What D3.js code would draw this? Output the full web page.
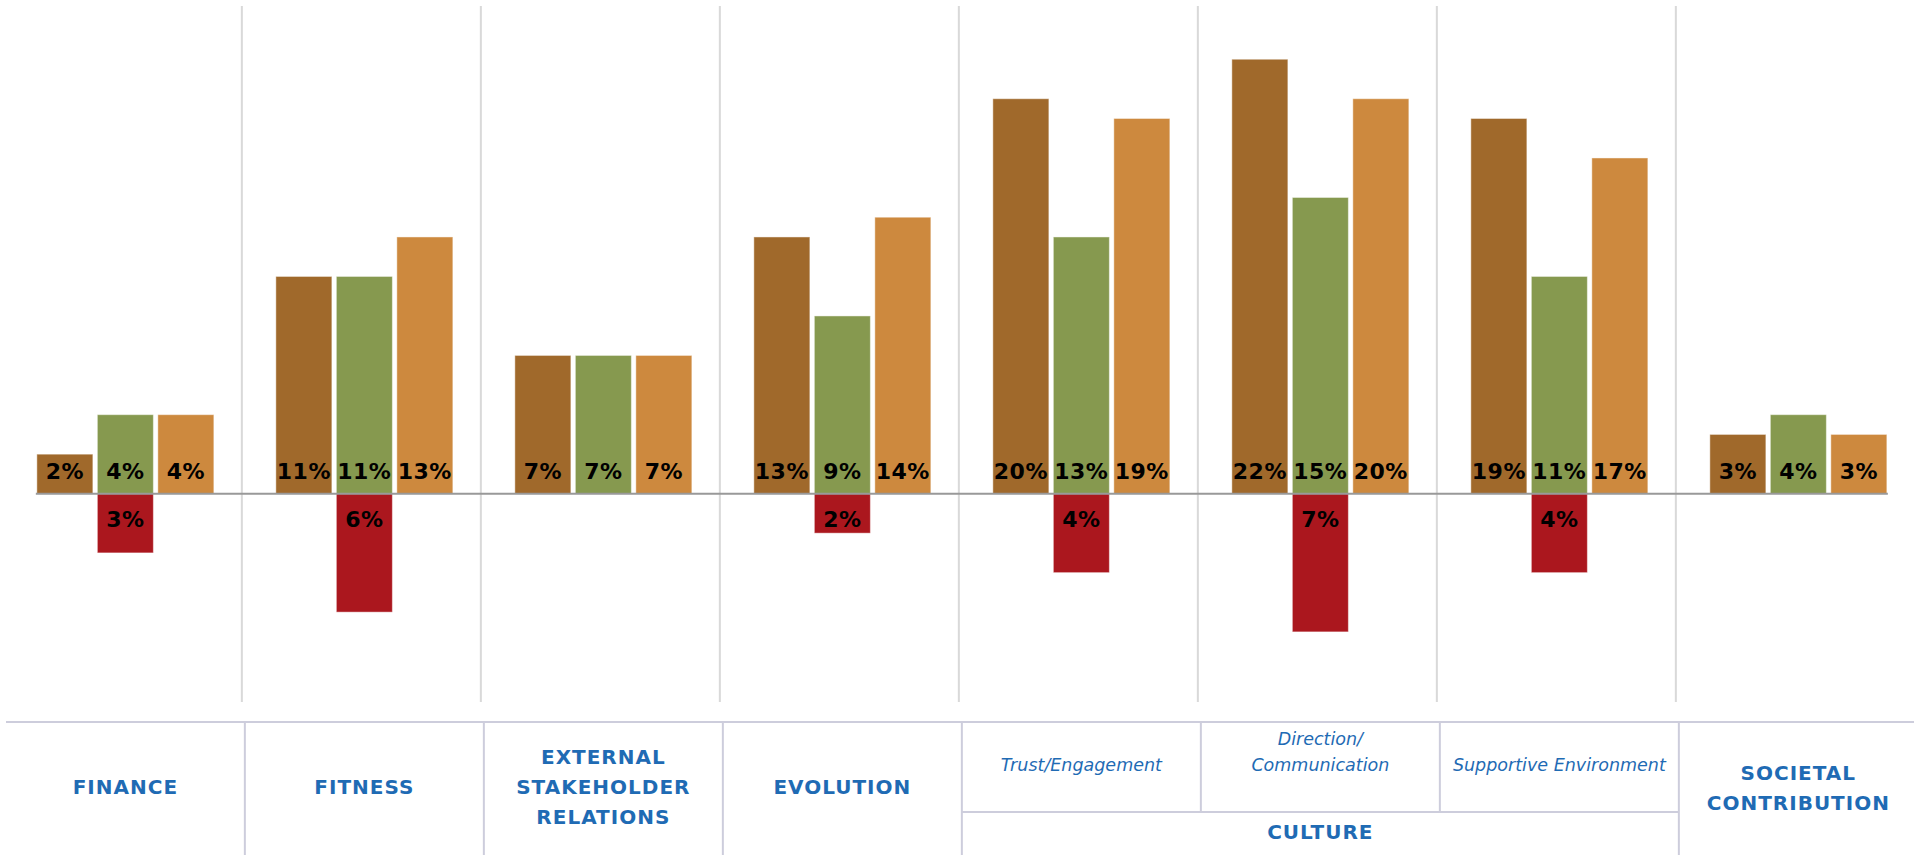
<!DOCTYPE html>
<html>
<head>
<meta charset="utf-8">
<script src="https://cdn.jsdelivr.net/npm/d3@7"></script>
<style>
  body { margin: 0; background: #ffffff; }
  svg { display: block; }
</style>
</head>
<body>
<script>
// categories (one band each) and the values of the three bars + the negative bar
var categories = ["Finance", "Fitness", "External Stakeholder Relations", "Evolution",
  "Trust/Engagement", "Direction/Communication", "Supportive Environment", "Societal Contribution"];
var seriesBrown = [2, 11, 7, 13, 20, 22, 19, 3];
var seriesGreen = [4, 11, 7, 9, 13, 15, 11, 4];
var seriesOrange = [4, 13, 7, 14, 19, 20, 17, 3];
var seriesRed = [-3, -6, null, -2, -4, -7, -4, null];

// labels for the table under the chart
var mainLabels = [
  { from: 0, to: 0, lines: ["FINANCE"] },
  { from: 1, to: 1, lines: ["FITNESS"] },
  { from: 2, to: 2, lines: ["EXTERNAL", "STAKEHOLDER", "RELATIONS"] },
  { from: 3, to: 3, lines: ["EVOLUTION"] },
  { from: 7, to: 7, lines: ["SOCIETAL", "CONTRIBUTION"] }
];
var groupLabel = { from: 4, to: 6, text: "CULTURE" };
var subLabels = [
  { index: 4, lines: ["Trust/Engagement"] },
  { index: 5, lines: ["Direction/", "Communication"] },
  { index: 6, lines: ["Supportive Environment"] }
];

var W = 1914, H = 855;
var brown = "#a0692b", green = "#86994f", orange = "#cd893e", red = "#ab171e";
var blue = "#1f6bb4";

var svg = d3.select("body").append("svg").attr("width", W).attr("height", H);

// x scale: one band per category
var x = d3.scaleBand().domain(categories).range([5.85, 5.85 + 8 * 239]).padding(0);
// slot inside each band for the three bars
var slot = d3.scaleBand().domain([0, 1, 2]).range([31, 208]).paddingInner(0.074);
// y scale in percent
var y = d3.scaleLinear().domain([-10.5, 25]).range([701, 0]);

// vertical gridlines between the categories
svg.append("g").selectAll("line")
  .data(categories.slice(1))
  .enter()
  .append("line")
  .attr("x1", function (d) { return x(d) - 3; })
  .attr("x2", function (d) { return x(d) - 3; })
  .attr("y1", 6)
  .attr("y2", 702)
  .attr("stroke", "#d9d9d9")
  .attr("stroke-width", 2);

// build a flat list of bars
var bars = [];
categories.forEach(function (c, i) {
  bars.push({ cat: c, slot: 0, v: seriesBrown[i], color: brown });
  bars.push({ cat: c, slot: 1, v: seriesGreen[i], color: green });
  bars.push({ cat: c, slot: 2, v: seriesOrange[i], color: orange });
  if (seriesRed[i] != null) bars.push({ cat: c, slot: 1, v: seriesRed[i], color: red });
});

svg.append("g").selectAll("rect")
  .data(bars)
  .enter()
  .append("rect")
  .attr("x", function (d) { return x(d.cat) + slot(d.slot); })
  .attr("width", slot.bandwidth())
  .attr("y", function (d) { return y(Math.max(0, d.v)); })
  .attr("height", function (d) { return Math.abs(y(d.v) - y(0)); })
  .attr("fill", function (d) { return d.color; })
  .attr("stroke", "rgba(255,255,255,0.45)")
  .attr("stroke-width", 1);

// zero line
svg.append("line")
  .attr("x1", x(categories[0]) + slot(0) - 1)
  .attr("x2", x(categories[7]) + slot(2) + slot.bandwidth() + 1)
  .attr("y1", y(0))
  .attr("y2", y(0))
  .attr("stroke", "#999999")
  .attr("stroke-width", 2);

// value labels (inside base for positive, inside top for negative)
svg.append("g").selectAll("text")
  .data(bars)
  .enter()
  .append("text")
  .attr("x", function (d) { return x(d.cat) + slot(d.slot) + slot.bandwidth() / 2; })
  .attr("y", function (d) { return d.v >= 0 ? y(0) - 15 : y(0) + 33; })
  .attr("text-anchor", "middle")
  .attr("font-family", "DejaVu Sans, Verdana, sans-serif")
  .attr("font-weight", "bold")
  .attr("font-size", 22)
  .attr("letter-spacing", 0.5)
  .attr("fill", "#000000")
  .text(function (d) { return Math.abs(d.v) + "%"; });

// ---- table under the chart ----
var table = svg.append("g");
var lineColor = "#cdcddc";
var tTop = 722, tMid = 812;

function edge(i) { return i < 8 ? x(categories[i]) : x(categories[7]) + x.bandwidth(); }

table.append("line")
  .attr("x1", 6).attr("x2", W)
  .attr("y1", tTop).attr("y2", tTop)
  .attr("stroke", lineColor).attr("stroke-width", 2);

// full height dividers
[1, 2, 3, 4, 7].forEach(function (i) {
  table.append("line")
    .attr("x1", edge(i)).attr("x2", edge(i))
    .attr("y1", tTop).attr("y2", H)
    .attr("stroke", lineColor).attr("stroke-width", 2);
});
// culture sub dividers
[5, 6].forEach(function (i) {
  table.append("line")
    .attr("x1", edge(i)).attr("x2", edge(i))
    .attr("y1", tTop).attr("y2", tMid)
    .attr("stroke", lineColor).attr("stroke-width", 2);
});
table.append("line")
  .attr("x1", edge(4)).attr("x2", edge(7))
  .attr("y1", tMid).attr("y2", tMid)
  .attr("stroke", lineColor).attr("stroke-width", 2);

// main category labels
mainLabels.forEach(function (m) {
  var cx = (edge(m.from) + edge(m.to + 1)) / 2;
  var cy = m.from === 7 ? 787.5 : 786.5;
  var t = table.append("text")
    .attr("text-anchor", "middle")
    .attr("font-family", "DejaVu Sans, Verdana, sans-serif")
    .attr("font-weight", "bold")
    .attr("font-size", 20)
    .attr("letter-spacing", 1)
    .attr("fill", blue);
  m.lines.forEach(function (l, k) {
    t.append("tspan")
      .attr("x", cx)
      .attr("y", cy + 7 + (k - (m.lines.length - 1) / 2) * 30)
      .text(l);
  });
});

// culture group label
table.append("text")
  .attr("x", (edge(groupLabel.from) + edge(groupLabel.to + 1)) / 2)
  .attr("y", 832 + 7)
  .attr("text-anchor", "middle")
  .attr("font-family", "DejaVu Sans, Verdana, sans-serif")
  .attr("font-weight", "bold")
  .attr("font-size", 20)
  .attr("letter-spacing", 1)
  .attr("fill", blue)
  .text(groupLabel.text);

// culture sub labels (italic)
subLabels.forEach(function (s) {
  var cx = x(categories[s.index]) + x.bandwidth() / 2;
  var t = table.append("text")
    .attr("text-anchor", "middle")
    .attr("font-family", "DejaVu Sans, Verdana, sans-serif")
    .attr("font-style", "italic")
    .attr("font-size", 17.5)
    .attr("fill", blue);
  s.lines.forEach(function (l, k) {
    // last line sits on the same row as the single-line labels
    t.append("tspan")
      .attr("x", cx)
      .attr("y", 764.5 + 6 - (s.lines.length - 1 - k) * 26)
      .text(l);
  });
});
</script>
</body>
</html>
